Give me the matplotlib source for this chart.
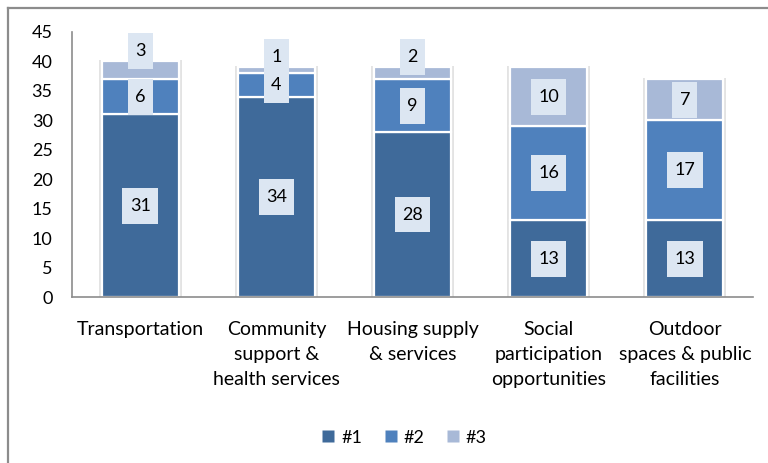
import matplotlib
matplotlib.use("Agg")
import matplotlib.pyplot as plt
from matplotlib.lines import Line2D
from matplotlib.path import Path
import numpy as np

categories = ["Transportation", "Community\nsupport &\nhealth services",
              "Housing supply\n& services", "Social\nparticipation\nopportunities",
              "Outdoor\nspaces & public\nfacilities"]
series_names = ["#1", "#2", "#3"]
rank1 = [31, 34, 28, 13, 13]
rank2 = [6, 4, 9, 16, 17]
rank3 = [3, 1, 2, 10, 7]
yticks = [0, 5, 10, 15, 20, 25, 30, 35, 40, 45]

colors = ["#3F6A9A", "#4F81BD", "#A8B9D7"]
label_bg = "#DCE6F2"
font = "Lato"

plt.rcParams["font.family"] = [font, "DejaVu Sans"]


def label_box(x0, y0, width, height, mutation_size):
    """Rectangular label background with separate horizontal/vertical padding."""
    px = 0.40 * mutation_size
    py = 0.55 * mutation_size
    x0, y0 = x0 - px, y0 - py
    x1, y1 = x0 + width + 2 * px, y0 + height + 2 * py
    return Path([(x0, y0), (x1, y0), (x1, y1), (x0, y1), (x0, y0)], closed=True)


fig = plt.figure(figsize=(7.68, 4.63), dpi=100)
ax = fig.add_axes([0.0938, 0.3585, 0.8867, 0.5725])

x = np.arange(len(categories))
width = 0.565
series = [rank1, rank2, rank3]
totals = np.sum(series, axis=0)

# soft halo behind each stacked column
ax.bar(x, totals + 0.35, width=width + 0.045, bottom=-0.1, color="#d8d8d8",
       alpha=0.7, zorder=1, linewidth=0)

box_props = dict(boxstyle=label_box, fc=label_bg, ec="none")
bottom = np.zeros(len(categories))
for vals, col, name in zip(series, colors, series_names):
    vals = np.array(vals, dtype=float)
    ax.bar(x, vals, width=width, bottom=bottom, color=col, edgecolor="white",
           linewidth=1.6, zorder=2, label=name)
    for xi, b, v, tot in zip(x, bottom, vals, totals):
        if v < 4:
            # thin segment: put its label just above the column
            ax.annotate(f"{int(v)}", xy=(xi, tot), xytext=(0, 7.5),
                        textcoords="offset points", ha="center", va="center",
                        fontsize=13, zorder=4, bbox=box_props)
        else:
            ax.text(xi, b + v / 2, f"{int(v)}", ha="center", va="center",
                    fontsize=13, zorder=4, bbox=box_props)
    bottom += vals

ax.set_xlim(-0.5, len(categories) - 0.5)
ax.set_ylim(0, 45)
ax.set_yticks(yticks)
ax.set_xticks(x)
ax.set_xticklabels(categories, fontsize=14, linespacing=1.6, va="top")
ax.tick_params(axis="y", length=0, pad=14, labelsize=13)
ax.tick_params(axis="x", length=0, pad=17)
for side in ["top", "right"]:
    ax.spines[side].set_visible(False)
for side in ["left", "bottom"]:
    ax.spines[side].set_color("#8c8c8c")
    ax.spines[side].set_linewidth(1.2)

handles = [Line2D([0], [0], marker="s", linestyle="none", markersize=8,
                  markerfacecolor=c, markeredgecolor="none") for c in colors]
fig.legend(handles, series_names, loc="center", bbox_to_anchor=(0.525, 0.055),
           ncol=3, frameon=False, fontsize=13, handletextpad=0.2,
           columnspacing=1.1, handlelength=1.0)

# chart frame along the top and left edges
fig.add_artist(Line2D([8 / 768, 8 / 768], [0, 1 - 8 / 463], transform=fig.transFigure,
                      color="#8c8c8c", linewidth=1.6))
fig.add_artist(Line2D([8 / 768, 1], [1 - 8 / 463, 1 - 8 / 463], transform=fig.transFigure,
                      color="#8c8c8c", linewidth=1.6))

fig.savefig("out.png", dpi=100)
